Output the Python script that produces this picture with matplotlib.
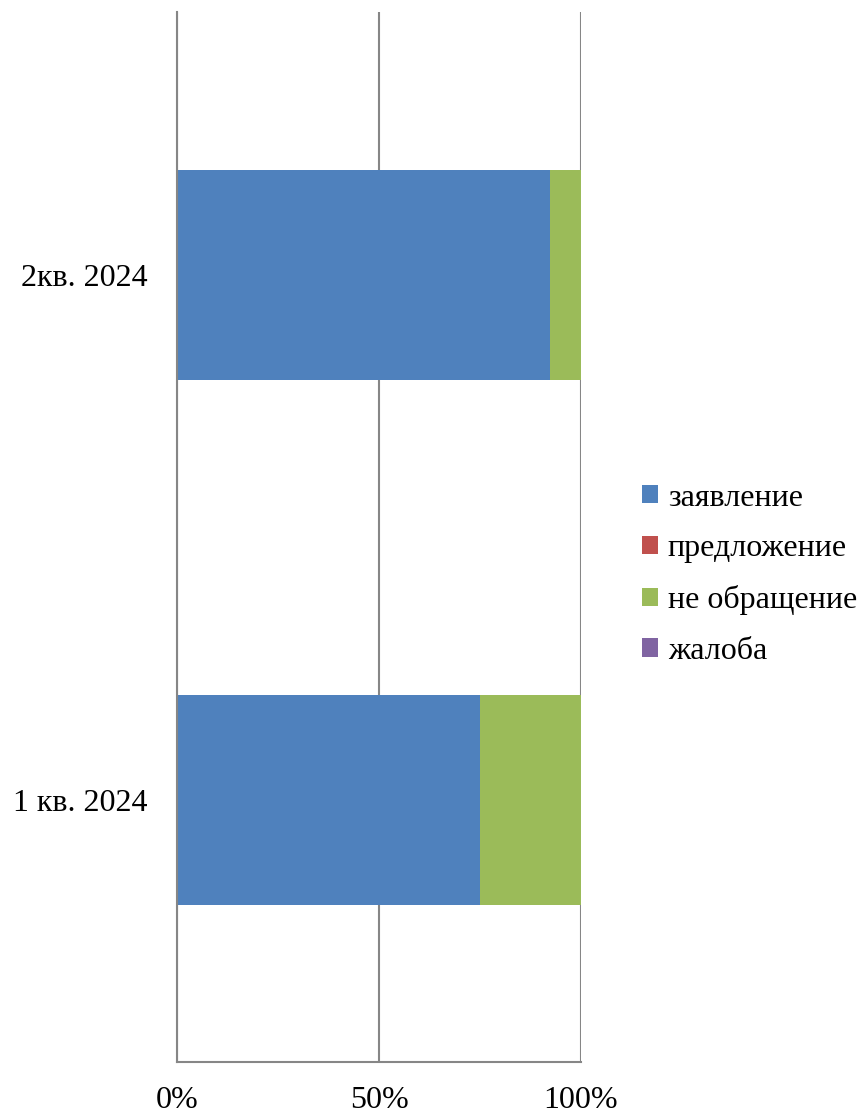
import numpy as np
import matplotlib.pyplot as plt
from matplotlib.ticker import FixedLocator

# dados
periodos = ['1 кв. 2024', '2кв. 2024']
series = ['заявление', 'предложение', 'не обращение', 'жалоба']
zayavlenie = [75.0, 92.3]
predlozhenie = [0.0, 0.0]
ne_obrashchenie = [25.0, 7.7]
zhaloba = [0.0, 0.0]
cores = ['#4F81BD', '#C0504D', '#9BBB59', '#8064A2']

plt.rcParams['font.family'] = ['Liberation Serif', 'DejaVu Serif']

fig = plt.figure(figsize=(8.61, 11.15), dpi=100)
ax = fig.add_axes([0.2056, 0.0475, 0.4692, 0.9415])

valores = np.array([zayavlenie, predlozhenie, ne_obrashchenie, zhaloba])
totais = valores.sum(axis=0)
pct = valores / totais * 100
y = np.arange(len(periodos))
esquerda = np.zeros(len(periodos))
for nome, v, c in zip(series, pct, cores):
    ax.barh(y, v, left=esquerda, height=0.4, color=c, label=nome, linewidth=0)
    esquerda += v

cinza = '#868686'
ax.set_xlim(0, 100)
ax.set_ylim(-0.5, 1.5)
ax.xaxis.set_major_locator(FixedLocator([0, 50, 100]))
ax.set_xticklabels(['0%', '50%', '100%'])
ax.set_yticks(y)
ax.set_yticklabels(periodos)
ax.tick_params(axis='both', length=0, labelsize=23)
ax.tick_params(axis='y', pad=21)
ax.tick_params(axis='x', pad=17)
ax.grid(axis='x', color=cinza, linewidth=1.5)
ax.set_axisbelow(True)
for s in ['top', 'right']:
    ax.spines[s].set_visible(False)
for s in ['left', 'bottom']:
    ax.spines[s].set_color(cinza)
    ax.spines[s].set_linewidth(1.5)

fig.legend(loc='center left', bbox_to_anchor=(0.746, 0.4845), frameon=False,
           fontsize=23, handlelength=0.5, handleheight=0.5, handletextpad=0.3,
           labelspacing=0.68, borderpad=0, borderaxespad=0)

fig.savefig('out.png', dpi=100)
